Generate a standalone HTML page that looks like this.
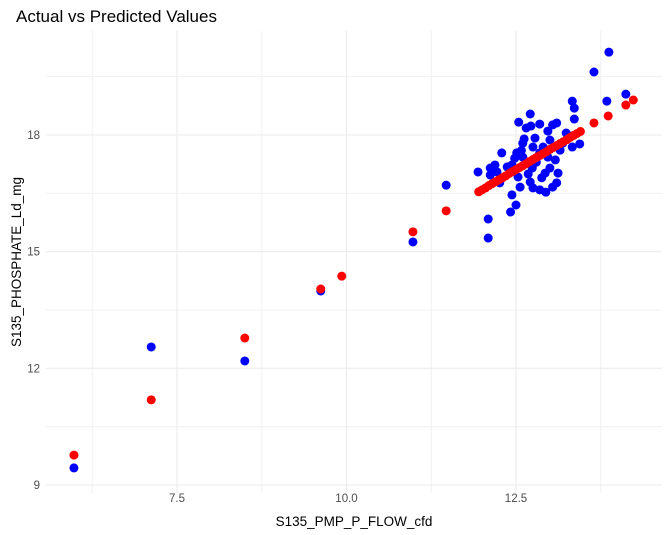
<!DOCTYPE html>
<html><head><meta charset="utf-8">
<style>
body{margin:0;background:#fff;}
svg{display:block;font-family:"Liberation Sans",Arial,sans-serif;}
</style></head>
<body>
<svg id="chart" width="669" height="535" xmlns="http://www.w3.org/2000/svg">
<rect width="669" height="535" fill="#fff"/>
<text x="16" y="22" font-size="17" fill="#000">Actual vs Predicted Values</text>
<g id="grid"></g>
<g id="ticks"></g>
<g id="actual"></g>
<g id="pred"></g>
<text x="354" y="526" font-size="13.5" text-anchor="middle" fill="#000">S135_PMP_P_FLOW_cfd</text>
<text transform="translate(21,262) rotate(-90)" font-size="13.5" text-anchor="middle" fill="#000">S135_PHOSPHATE_Ld_mg</text>
</svg>
<script>
const xTicks=[7.5,10.0,12.5];
const xTickLabels=["7.5","10.0","12.5"];
const xMinor=[6.25,8.75,11.25,13.75];
const yTicks=[9,12,15,18];
const yTickLabels=["9","12","15","18"];
const yMinor=[10.5,13.5,16.5,19.5];
const actualX=[5.98,7.12,8.50,9.62,10.98,11.47,13.87,13.65,14.12,13.84,13.33,13.36,13.36,12.09,12.09,12.42,12.50,12.44,11.94,12.12,12.12,12.19,12.29,12.26,12.44,12.51,12.60,12.54,12.65,12.71,12.72,12.85,12.97,13.04,13.10,13.24,12.75,12.90,12.60,12.74,12.53,12.56,12.71,12.75,12.85,12.94,13.04,13.10,12.93,13.00,13.12,13.08,13.15,13.19,13.33,13.44,13.00,12.85,12.97,12.78,12.37,12.22,12.62,12.68,12.88,12.80,12.58,12.48];
const actualY=[9.44,12.55,12.19,13.99,15.25,16.71,20.13,19.62,19.05,18.87,18.87,18.69,18.41,15.35,15.84,16.02,16.20,16.46,17.05,17.15,16.97,17.23,17.54,16.77,17.23,17.54,17.79,18.33,18.18,18.54,18.23,18.28,18.10,18.26,18.31,18.05,17.69,17.69,17.43,17.15,16.92,16.66,16.79,16.64,16.59,16.53,16.66,16.77,17.02,17.15,17.02,17.36,17.61,17.79,17.69,17.77,17.87,17.54,17.43,17.92,17.18,17.05,17.90,17.00,16.90,17.30,17.60,17.40];
const predX=[5.98,7.12,8.50,9.62,9.93,10.98,11.47,14.23,14.12,13.86,13.65,11.95,12.00,12.05,12.10,12.15,12.20,12.25,12.30,12.35,12.40,12.45,12.50,12.55,12.60,12.65,12.70,12.75,12.80,12.85,12.90,12.95,13.00,13.05,13.10,13.15,13.20,13.25,13.30,13.35,13.40,13.45];
const predY=[9.77,11.19,12.78,14.04,14.37,15.51,16.05,18.90,18.77,18.49,18.31,16.54,16.59,16.64,16.70,16.75,16.80,16.85,16.90,16.95,17.01,17.06,17.11,17.16,17.21,17.26,17.32,17.37,17.42,17.47,17.52,17.57,17.63,17.68,17.73,17.78,17.83,17.88,17.94,17.99,18.04,18.09];
const NS="http://www.w3.org/2000/svg";
const L=46,R=662,T=31,B=493;
function sx(v){return 177+(v-7.5)*67.8;}
function sy(v){return 135-(v-18)*38.89;}
function mk(tag,attrs,parent){const e=document.createElementNS(NS,tag);for(const k in attrs)e.setAttribute(k,attrs[k]);parent.appendChild(e);return e;}
const grid=document.getElementById('grid');
xMinor.forEach(v=>{const l=mk('line',{x1:sx(v),x2:sx(v),y1:T,y2:B,stroke:'#f0f0f0','stroke-width':1},grid);

});
yMinor.forEach(v=>{const l=mk('line',{x1:L,x2:R,y1:sy(v),y2:sy(v),stroke:'#f0f0f0','stroke-width':1},grid);

});
xTicks.forEach(v=>{const l=mk('line',{x1:sx(v),x2:sx(v),y1:T,y2:B,stroke:'#ebebeb','stroke-width':1.1},grid);

});
yTicks.forEach(v=>{const l=mk('line',{x1:L,x2:R,y1:sy(v),y2:sy(v),stroke:'#ebebeb','stroke-width':1.1},grid);

});
const ticks=document.getElementById('ticks');
xTicks.forEach((v,i)=>{const t=mk('text',{x:sx(v),y:502,'font-size':11.5,fill:'#4d4d4d','text-anchor':'middle'},ticks);t.textContent=xTickLabels[i];

});
yTicks.forEach((v,i)=>{const t=mk('text',{x:40,y:sy(v)+4,'font-size':11.5,fill:'#4d4d4d','text-anchor':'end'},ticks);t.textContent=yTickLabels[i];

});
const ga=document.getElementById('actual');
actualX.forEach((v,i)=>{const c=mk('circle',{cx:sx(v),cy:sy(actualY[i]),r:4.5,fill:'#0000ff'},ga);

});
const gp=document.getElementById('pred');
predX.forEach((v,i)=>{const c=mk('circle',{cx:sx(v),cy:sy(predY[i]),r:4.5,fill:'#ff0000'},gp);

});
</script>
</body></html>
